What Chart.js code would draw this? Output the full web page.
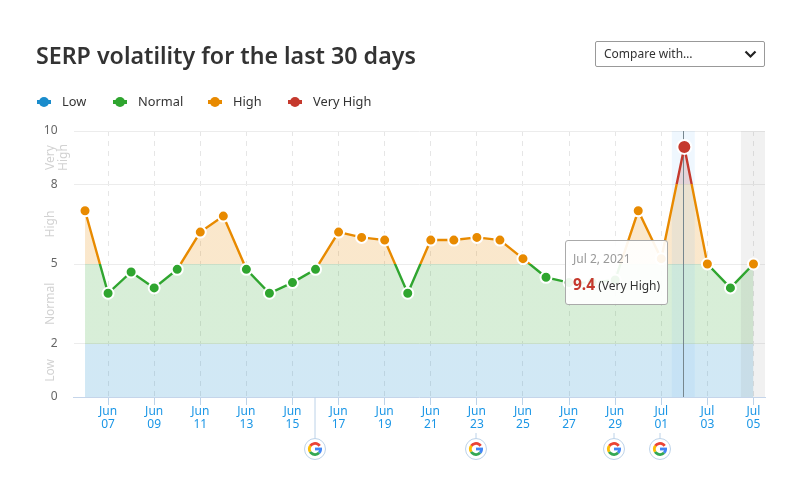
<!DOCTYPE html>
<html>
<head>
<meta charset="utf-8">
<script src="https://cdn.jsdelivr.net/npm/chart.js@4"></script>
<style>
  html, body { margin: 0; padding: 0; background: #fff; }
  body { width: 810px; height: 487px; position: relative; overflow: hidden; font-family: "Noto Sans", sans-serif; color: #333; }
  #chart { position: absolute; left: 0; top: 0; }
  h1 { position: absolute; left: 36px; top: 39px; margin: 0; font-size: 23.2px; line-height: 32px; font-weight: 600; white-space: nowrap; }
  .compare { position: absolute; left: 595px; top: 41px; width: 168px; height: 24px; border: 1px solid #999; border-radius: 2px; font-size: 12px; line-height: 24px; text-indent: 8px; }
  .compare svg { position: absolute; right: 7px; top: 8px; }
  .lg { position: absolute; top: 91px; height: 20px; line-height: 20px; font-size: 12.8px; white-space: nowrap; }
  .lg i { position: absolute; left: 0; top: 9px; width: 14px; height: 4px; }
  .lg b { position: absolute; left: 2px; top: 6px; width: 10px; height: 10px; border-radius: 50%; }
  .lg span { margin-left: 25px; }
  #tip { position: absolute; box-sizing: border-box; width: 103px; height: 65px; background: rgba(255,255,255,.92); border: 1px solid #aaa; border-radius: 3px; padding: 8px 7px; font-size: 12px; white-space: nowrap; }
  #tip .d { color: #999; line-height: 20px; }
  #tip .v { line-height: 20px; margin-top: 5px; }
  #tip .v b { color: #c5392d; font-size: 15.5px; font-weight: 700; }
</style>
</head>
<body>
<canvas id="chart" width="810" height="487"></canvas>
<h1>SERP volatility for the last 30 days</h1>
<div class="compare">Compare with…<svg width="13" height="9" viewBox="0 0 13 9"><path d="M1.5 1.5 L6.5 6.5 L11.5 1.5" fill="none" stroke="#222" stroke-width="2.2"/></svg></div>
<div id="legend"></div>
<div id="tip"></div>
<script>
const days = ["Jun 06", "Jun 07", "Jun 08", "Jun 09", "Jun 10", "Jun 11", "Jun 12", "Jun 13", "Jun 14", "Jun 15",
  "Jun 16", "Jun 17", "Jun 18", "Jun 19", "Jun 20", "Jun 21", "Jun 22", "Jun 23", "Jun 24", "Jun 25",
  "Jun 26", "Jun 27", "Jun 28", "Jun 29", "Jun 30", "Jul 01", "Jul 02", "Jul 03", "Jul 04", "Jul 05"];
const volatility = [7.0, 3.9, 4.7, 4.1, 4.8, 6.2, 6.8, 4.8, 3.9, 4.3,
  4.8, 6.2, 6.0, 5.9, 3.9, 5.9, 5.9, 6.0, 5.9, 5.2,
  4.5, 4.3, 4.3, 4.4, 7.0, 5.2, 9.4, 5.0, 4.1, 5.0];
const yTicks = [0, 2, 5, 8, 10];
const levelNames = ["Low", "Normal", "High", "Very High"];
const levelColors = ["#1a8ccc", "#2fa52f", "#e88a00", "#c5392d"];
const levelFills = ["rgba(26,140,204,.2)", "rgba(47,165,47,.19)", "rgba(232,138,0,.2)", "rgba(197,57,45,.2)"];
const levelFrom = [0, 2, 5, 8];
const levelTo = [2, 5, 8, 10];
const googleUpdates = ["Jun 16", "Jun 23", "Jun 29", "Jul 01"];
const hoverDay = "Jul 02";
const hoverDate = "Jul 2, 2021";
const shadedDay = "Jul 05";

const legendLeft = [37, 113, 208, 288];
document.getElementById("legend").innerHTML = levelNames.map((n, i) =>
  `<div class="lg" style="left:${legendLeft[i]}px"><i style="background:${levelColors[i]}"></i><b style="background:${levelColors[i]}"></b><span>${n}</span></div>`).join("");

function levelOf(v) {
  let lvl = 0;
  levelFrom.forEach((f, i) => { if (v >= f) lvl = i; });
  return lvl;
}

// 按 y 轴分段的硬边渐变
function bandGradient(chart, colors) {
  const area = chart.chartArea;
  if (!area) return colors[0];
  const y = chart.scales.y;
  const g = chart.ctx.createLinearGradient(0, area.bottom, 0, area.top);
  const stop = (v) => (y.bottom - y.getPixelForValue(v)) / (y.bottom - y.top);
  colors.forEach((c, i) => {
    g.addColorStop(stop(levelFrom[i]), c);
    g.addColorStop(stop(levelTo[i]), c);
  });
  return g;
}

const hoverIdx = days.indexOf(hoverDay);

const overlays = {
  id: "overlays",
  beforeDatasetDraw(chart) {
    const { ctx, chartArea: a, scales: { x } } = chart;
    const step = x.getPixelForValue(1) - x.getPixelForValue(0);
    const hx = x.getPixelForValue(hoverIdx);
    ctx.save();
    ctx.fillStyle = "rgba(110,180,245,.11)";
    ctx.fillRect(hx - step / 2 - 1, a.top, step, a.bottom - a.top);
    const sx = x.getPixelForValue(days.indexOf(shadedDay));
    ctx.fillStyle = "rgba(120,120,120,.1)";
    ctx.fillRect(sx - step / 2 - 1, a.top, a.right - sx + step / 2 + 1, a.bottom - a.top);
    ctx.strokeStyle = "#76868e";
    ctx.lineWidth = 1;
    ctx.beginPath();
    ctx.moveTo(Math.round(hx) - 0.5, a.top);
    ctx.lineTo(Math.round(hx) - 0.5, a.bottom);
    ctx.stroke();
    ctx.restore();
  },
  afterDraw(chart) {
    const { ctx, scales: { x, y } } = chart;
    // 分段名称
    ctx.save();
    ctx.fillStyle = "#d2d2d2";
    ctx.font = '12px "Noto Sans"';
    ctx.textAlign = "center";
    ctx.textBaseline = "middle";
    levelNames.forEach((n, i) => {
      const cy = (y.getPixelForValue(levelFrom[i]) + y.getPixelForValue(levelTo[i])) / 2;
      const words = n.split(" ");
      words.forEach((w, k) => {
        ctx.save();
        ctx.translate(51 + k * 13, cy);
        ctx.rotate(-Math.PI / 2);
        ctx.fillText(w, 0, 0);
        ctx.restore();
      });
    });
    ctx.restore();
    // Google 更新标记
    googleUpdates.forEach((d) => {
      const i = days.indexOf(d);
      const px = Math.round(x.getPixelForValue(i)) - 1.5;
      const cy = y.bottom + 52;
      ctx.save();
      ctx.strokeStyle = "#bcd2e8";
      ctx.lineWidth = 1;
      ctx.beginPath();
      ctx.moveTo(px + 0.5, i % 2 === 1 ? y.bottom + 36 : y.bottom);
      ctx.lineTo(px + 0.5, cy - 10);
      ctx.stroke();
      ctx.fillStyle = "#fff";
      ctx.beginPath();
      ctx.arc(px + 0.5, cy, 10.5, 0, Math.PI * 2);
      ctx.fill();
      ctx.stroke();
      const r = 5.6;
      ctx.lineWidth = 2.8;
      const arc = (c, s, e) => {
        ctx.strokeStyle = c;
        ctx.beginPath();
        ctx.arc(px + 0.5, cy, r, s, e);
        ctx.stroke();
      };
      arc("#ea4335", -2.55, -0.6);
      arc("#fbbc05", 2.6, 3.75);
      arc("#34a853", 0.75, 2.6);
      arc("#4285f4", 0, 0.75);
      ctx.fillStyle = "#4285f4";
      ctx.fillRect(px + 0.5, cy - 1.4, r + 1.4, 2.8);
      ctx.restore();
    });
  },
};

const chart = new Chart(document.getElementById("chart"), {
  type: "line",
  data: {
    labels: days,
    datasets: [{
      data: volatility,
      borderWidth: 2.4,
      tension: 0,
      fill: "origin",
      borderColor: (c) => bandGradient(c.chart, levelColors),
      backgroundColor: (c) => bandGradient(c.chart, levelFills),
      pointBackgroundColor: (c) => levelColors[levelOf(c.raw)],
      pointBorderColor: "#fff",
      pointBorderWidth: 2,
      pointRadius: (c) => (c.dataIndex === hoverIdx ? 7 : 5.5),
    }],
  },
  options: {
    responsive: false,
    animation: false,
    events: [],
    layout: { padding: { left: 39.5, right: 45, top: 131, bottom: 30 } },
    plugins: { legend: { display: false }, tooltip: { enabled: false } },
    scales: {
      x: {
        type: "category",
        offset: true,
        afterBuildTicks: (s) => { s.ticks = s.ticks.filter((t) => t.value % 2 === 1); },
        afterFit: (s) => { s.height = 60; },
        ticks: {
          autoSkip: false,
          maxRotation: 0,
          color: "#1a96e6",
          font: { family: "Noto Sans", size: 12, lineHeight: 1.1 },
          padding: 0,
          callback(v) { return this.getLabelForValue(v).split(" "); },
        },
        grid: { color: "#e6e6e6", tickColor: "#bcd2e8", tickLength: 8, tickBorderDash: [] },
        border: { color: "#c5d5ea", dash: [5, 5] },
      },
      y: {
        min: 0,
        max: 10,
        afterBuildTicks: (s) => { s.ticks = yTicks.map((v) => ({ value: v })); },
        afterFit: (s) => { s.width = 34; },
        ticks: { color: "#666", font: { family: "Noto Sans", size: 12 }, padding: 16 },
        grid: { color: "#ececec", drawTicks: false },
        border: { display: false },
      },
    },
  },
  plugins: [overlays],
});

// 悬浮提示
const tip = document.getElementById("tip");
const hv = volatility[hoverIdx];
tip.innerHTML = `<div class="d">${hoverDate}</div><div class="v"><b>${hv}</b> (${levelNames[levelOf(hv)]})</div>`;
tip.style.left = Math.round(chart.scales.x.getPixelForValue(hoverIdx) - 119) + "px";
tip.style.top = Math.round(chart.scales.y.getPixelForValue(hv) + 93) + "px";
</script>
</body>
</html>
